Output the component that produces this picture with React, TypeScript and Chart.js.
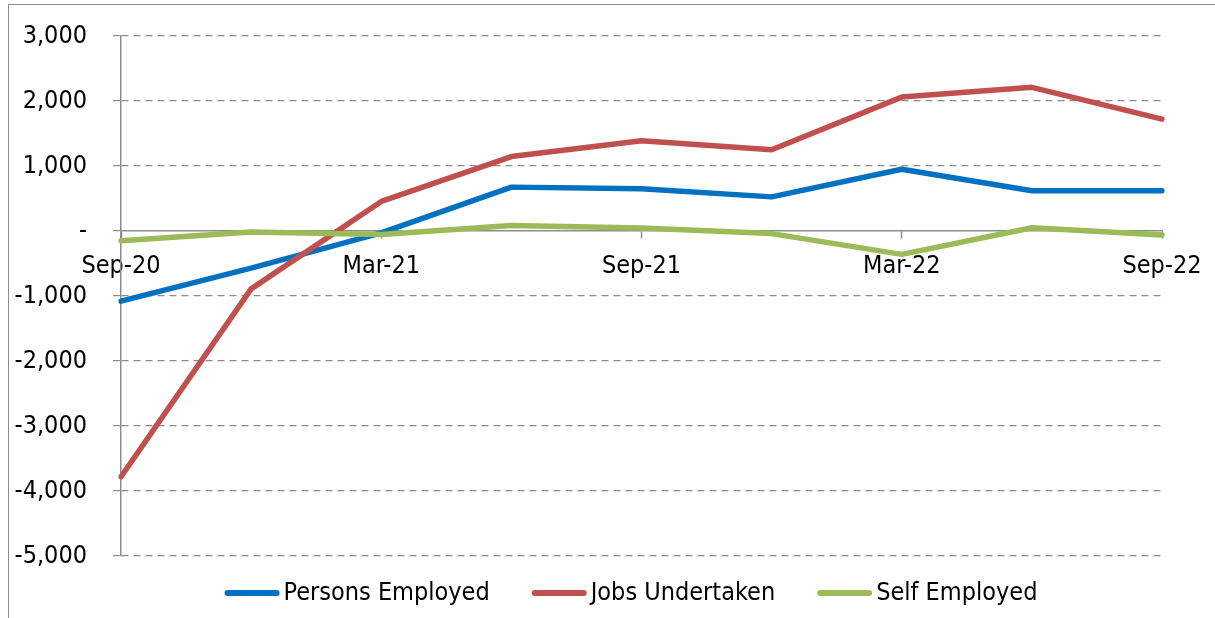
import React, { useEffect, useRef } from "react";
import { Chart, registerables } from "chart.js";

Chart.register(...registerables);

const categories = ["Sep-20", "Dec-20", "Mar-21", "Jun-21", "Sep-21", "Dec-21", "Mar-22", "Jun-22", "Sep-22"];
const personsEmployed = [-1080, -570, -30, 675, 650, 525, 950, 620, 620];
const jobsUndertaken = [-3780, -890, 455, 1145, 1390, 1250, 2060, 2210, 1720];
const selfEmployed = [-150, -15, -55, 85, 45, -40, -360, 50, -60];
const seriesNames = ["Persons Employed", "Jobs Undertaken", "Self Employed"];
const seriesColors = ["#0070C0", "#C0504D", "#9BBB59"];
const yMin = -5000;
const yMax = 3000;
const yStep = 1000;

const FONT = '"DejaVu Sans Condensed", "Liberation Sans Narrow", "DejaVu Sans", sans-serif';
const FONT_SIZE = 25;
const GRAY = "#8c8c8c";

const framePlugin = {
  id: "frame",
  beforeDraw(chart: any) {
    const ctx = chart.ctx;
    ctx.save();
    ctx.fillStyle = "#ffffff";
    ctx.fillRect(0, 0, chart.width, chart.height);
    ctx.strokeStyle = GRAY;
    ctx.lineWidth = 1;
    ctx.strokeRect(8.5, 4.5, chart.width + 20, chart.height + 20);
    ctx.restore();
  },
  afterDraw(chart: any) {
    const ctx = chart.ctx;
    ctx.save();
    ctx.font = `${FONT_SIZE}px ${FONT}`;
    const lineLen = 55;
    const gap = 4;
    const itemGap = 42;
    const widths = seriesNames.map((n) => ctx.measureText(n).width);
    const total = widths.reduce((a, w) => a + lineLen + gap + w, 0) + itemGap * (seriesNames.length - 1);
    let x = 631 - total / 2;
    const y = 593;
    seriesNames.forEach((name, i) => {
      ctx.strokeStyle = seriesColors[i];
      ctx.lineWidth = 6;
      ctx.lineCap = "round";
      ctx.beginPath();
      ctx.moveTo(x + 3, y);
      ctx.lineTo(x + lineLen - 3, y);
      ctx.stroke();
      ctx.fillStyle = "#000000";
      ctx.textBaseline = "middle";
      ctx.textAlign = "left";
      ctx.fillText(name, x + lineLen + gap, y);
      x += lineLen + gap + widths[i] + itemGap;
    });
    ctx.restore();
  },
};

export default function App() {
  const ref = useRef<HTMLCanvasElement>(null);
  useEffect(() => {
    document.body.style.margin = "0";
    const canvas = ref.current!;
    const data = [personsEmployed, jobsUndertaken, selfEmployed];
    const chart = new Chart(canvas, {
      type: "line",
      data: {
        labels: categories,
        datasets: data.map((d, i) => ({
          label: seriesNames[i],
          data: d,
          borderColor: seriesColors[i],
          backgroundColor: seriesColors[i],
          borderWidth: 5.5,
          pointRadius: 0,
          pointHoverRadius: 0,
          tension: 0,
          fill: false,
          borderJoinStyle: "round" as const,
          borderCapStyle: "round" as const,
          order: 2 - i,
        })),
      },
      options: {
        responsive: false,
        animation: false,
        devicePixelRatio: 1,
        layout: { autoPadding: false, padding: { left: 0, top: 36, right: 53, bottom: 62 } },
        plugins: { legend: { display: false }, tooltip: { enabled: false } },
        scales: {
          x: {
            type: "category",
            position: { y: 0 } as any,
            offset: false,
            afterFit: (s: any) => {
              s.paddingLeft = 0;
              s.paddingRight = 0;
            },
            grid: {
              drawOnChartArea: false,
              drawTicks: true,
              tickLength: 7,
              tickWidth: 1.5,
              tickColor: (c: any) => (c.index % 2 === 0 ? GRAY : "rgba(0,0,0,0)"),
            },
            border: { display: true, color: GRAY, width: 1.5 },
            ticks: {
              autoSkip: false,
              maxRotation: 0,
              minRotation: 0,
              padding: 13,
              color: "#000000",
              font: { family: FONT, size: FONT_SIZE },
              callback: (_v: any, i: number) => (i % 2 === 0 ? categories[i] : ""),
            },
          },
          y: {
            min: yMin,
            max: yMax,
            afterFit: (s: any) => {
              s.width = 121;
              s.paddingTop = 0;
              s.paddingBottom = 0;
            },
            grid: {
              color: (c: any) => (c.tick && c.tick.value === 0 ? "rgba(0,0,0,0)" : GRAY),
              lineWidth: 1.2,
              tickLength: 8,
              tickColor: GRAY,
              tickWidth: 1.2,
            },
            border: { display: true, color: GRAY, width: 1.5, dash: [7, 5] },
            ticks: {
              stepSize: yStep,
              padding: 26,
              color: "#000000",
              font: { family: FONT, size: FONT_SIZE },
              callback: (v: any) => (Number(v) === 0 ? "-" : Number(v).toLocaleString("en-US")),
            },
          },
        },
      },
      plugins: [framePlugin],
    });
    return () => chart.destroy();
  }, []);
  return (
    <div style={{ position: "fixed", left: 0, top: 0, width: 1215, height: 618 }}>
      <canvas ref={ref} width={1215} height={618} style={{ display: "block" }} />
    </div>
  );
}
